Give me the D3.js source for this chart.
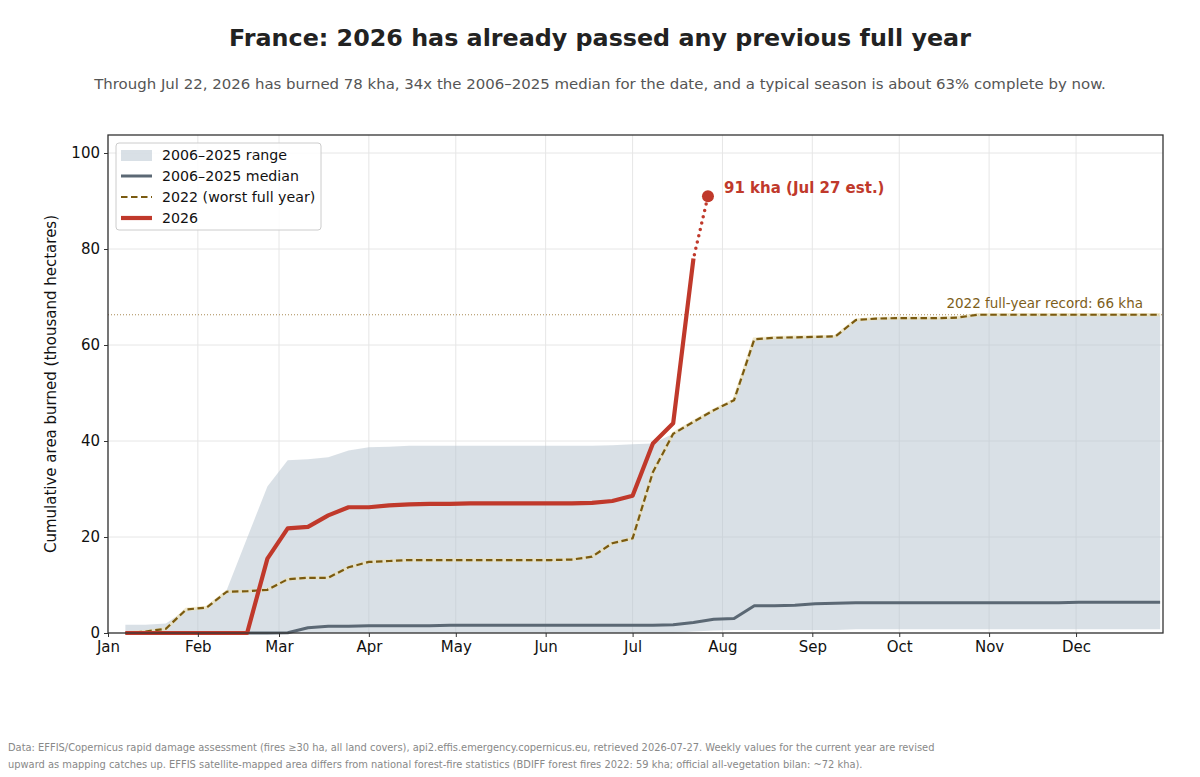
<!DOCTYPE html>
<html>
<head>
<meta charset="utf-8">
<script src="https://cdn.jsdelivr.net/npm/d3@7"></script>
<style>
  body { margin: 0; background: #fff; }
  svg { font-family: "DejaVu Sans", sans-serif; }
</style>
</head>
<body>
<svg id="chart" width="1200" height="777"></svg>
<script>
// weekly points, first one on Jan 7
var firstWeek = new Date(2026, 0, 7);
var weekCount = 52;

var rangeLow = [0, 0, 0, 0, 0, 0, 0, 0, 0, 0, 0, 0, 0, 0, 0, 0, 0, 0, 0, 0,
  0, 0, 0, 0, 0, 0, 0, 0, 0.3, 0.5, 0.6, 0.6, 0.6, 0.6, 0.6, 0.6, 0.8, 0.8, 0.8, 0.8,
  0.8, 0.8, 0.8, 0.8, 0.8, 0.8, 0.8, 0.8, 0.8, 0.8, 0.8, 0.8];
var rangeHigh = [1.7, 1.7, 2.0, 4.9, 5.3, 9.0, 19.8, 30.5, 36.0, 36.2, 36.6, 38.0, 38.7, 38.8, 39.0, 39.0, 39.0, 39.0, 39.0, 39.0,
  39.0, 39.0, 39.0, 39.0, 39.1, 39.3, 39.5, 41.5, 44.0, 46.4, 48.5, 61.2, 61.5, 61.6, 61.7, 61.8, 65.2, 65.5, 65.6, 65.6,
  65.6, 65.7, 66.3, 66.3, 66.3, 66.3, 66.3, 66.3, 66.3, 66.3, 66.3, 66.3];
var median = [0, 0, 0, 0, 0, 0, 0, 0, 0.05, 1.1, 1.4, 1.4, 1.5, 1.5, 1.5, 1.5, 1.6, 1.6, 1.6, 1.6,
  1.6, 1.6, 1.6, 1.6, 1.6, 1.6, 1.6, 1.7, 2.2, 2.85, 3.0, 5.7, 5.7, 5.8, 6.1, 6.2, 6.3, 6.3, 6.3, 6.3,
  6.3, 6.3, 6.3, 6.3, 6.3, 6.3, 6.3, 6.4, 6.4, 6.4, 6.4, 6.4];
var year2022 = [0, 0.3, 0.9, 4.9, 5.3, 8.6, 8.7, 9.0, 11.2, 11.5, 11.5, 13.7, 14.8, 15.0, 15.2, 15.2, 15.2, 15.2, 15.2, 15.2,
  15.2, 15.2, 15.3, 15.9, 18.7, 19.7, 33.5, 41.5, 44.0, 46.4, 48.5, 61.2, 61.5, 61.6, 61.7, 61.8, 65.2, 65.5, 65.6, 65.6,
  65.6, 65.7, 66.3, 66.3, 66.3, 66.3, 66.3, 66.3, 66.3, 66.3, 66.3, 66.3];
var year2026 = [0, 0, 0, 0, 0, 0, 0, 15.5, 21.8, 22.1, 24.5, 26.2, 26.2, 26.6, 26.8, 26.9, 26.9, 27.0, 27.0, 27.0,
  27.0, 27.0, 27.0, 27.1, 27.5, 28.6, 39.5, 43.7, 78.0];

var estDate = new Date(2026, 6, 27);
var estValue = 91;
var record2022 = 66.3;

var monthLabels = ["Jan", "Feb", "Mar", "Apr", "May", "Jun", "Jul", "Aug", "Sep", "Oct", "Nov", "Dec"];
var yTicks = [0, 20, 40, 60, 80, 100];

var titleText = "France: 2026 has already passed any previous full year";
var subtitleText = "Through Jul 22, 2026 has burned 78 kha, 34x the 2006\u20132025 median for the date, and a typical season is about 63% complete by now.";
var footLines = [
  "Data: EFFIS/Copernicus rapid damage assessment (fires \u226530 ha, all land covers), api2.effis.emergency.copernicus.eu, retrieved 2026-07-27. Weekly values for the current year are revised",
  "upward as mapping catches up. EFFIS satellite-mapped area differs from national forest-fire statistics (BDIFF forest fires 2022: 59 kha; official all-vegetation bilan: ~72 kha)."
];

var colRed = "#c0392b";
var colMedian = "#5b6874";
var col2022 = "#7a5a10";
var colBand = "#b3c1cd";
var dash2022 = "6.5,3.5";

var svg = d3.select("#chart");
var plotLeft = 108, plotRight = 1163, plotTop = 135, plotBottom = 633;

var weeks = d3.range(weekCount).map(function (i) {
  return d3.timeDay.offset(firstWeek, 7 * i);
});

var x = d3.scaleTime()
  .domain([new Date(2026, 0, 1), new Date(2026, 11, 31)])
  .range([plotLeft, plotRight]);
var y = d3.scaleLinear().domain([0, 103.75]).range([plotBottom, plotTop]);

var months = monthLabels.map(function (m, i) {
  return new Date(2026, i, 1);
});

// grid
svg.append("g")
  .selectAll("line")
  .data(months)
  .enter()
  .append("line")
  .attr("x1", function (d) { return x(d); })
  .attr("x2", function (d) { return x(d); })
  .attr("y1", plotTop)
  .attr("y2", plotBottom)
  .attr("stroke", "#e6e6e6")
  .attr("stroke-width", 1);
svg.append("g")
  .selectAll("line")
  .data(yTicks)
  .enter()
  .append("line")
  .attr("x1", plotLeft)
  .attr("x2", plotRight)
  .attr("y1", function (d) { return y(d); })
  .attr("y2", function (d) { return y(d); })
  .attr("stroke", "#e6e6e6")
  .attr("stroke-width", 1);

// range band
var area = d3.area()
  .x(function (d, i) { return x(weeks[i]); })
  .y0(function (d, i) { return y(rangeLow[i]); })
  .y1(function (d, i) { return y(rangeHigh[i]); });
svg.append("path")
  .datum(rangeHigh)
  .attr("d", area)
  .attr("fill", colBand)
  .attr("fill-opacity", 0.5);

// record line
svg.append("line")
  .attr("x1", plotLeft)
  .attr("x2", plotRight)
  .attr("y1", y(record2022))
  .attr("y2", y(record2022))
  .attr("stroke", "#a88a55")
  .attr("stroke-width", 1)
  .attr("stroke-dasharray", "1,2");
svg.append("text")
  .attr("x", 1143)
  .attr("y", y(record2022) - 7)
  .attr("text-anchor", "end")
  .attr("font-size", "13.5px")
  .attr("fill", "#7d5e1a")
  .text("2022 full-year record: 66 kha");

var line = d3.line()
  .x(function (d, i) { return x(weeks[i]); })
  .y(function (d) { return y(d); });

svg.append("path")
  .datum(median)
  .attr("d", line)
  .attr("fill", "none")
  .attr("stroke", colMedian)
  .attr("stroke-width", 3)
  .attr("stroke-linejoin", "round");

// pale halo under the 2022 dashes
svg.append("path")
  .datum(year2022)
  .attr("d", line)
  .attr("fill", "none")
  .attr("stroke", "#eadfb8")
  .attr("stroke-opacity", 0.7)
  .attr("stroke-width", 3.4);
svg.append("path")
  .datum(year2022)
  .attr("d", line)
  .attr("fill", "none")
  .attr("stroke", col2022)
  .attr("stroke-width", 2.2)
  .attr("stroke-dasharray", dash2022);

svg.append("path")
  .datum(year2026)
  .attr("d", line)
  .attr("fill", "none")
  .attr("stroke", colRed)
  .attr("stroke-width", 4.2)
  .attr("stroke-linejoin", "round");

// estimate to Jul 27
var lastIdx = year2026.length - 1;
svg.append("line")
  .attr("x1", x(weeks[lastIdx]))
  .attr("y1", y(year2026[lastIdx]))
  .attr("x2", x(estDate))
  .attr("y2", y(estValue))
  .attr("stroke", colRed)
  .attr("stroke-width", 3.5)
  .attr("stroke-dasharray", "0,6.5")
  .attr("stroke-dashoffset", -4)
  .attr("stroke-linecap", "round");
svg.append("circle")
  .attr("cx", x(estDate))
  .attr("cy", y(estValue))
  .attr("r", 6)
  .attr("fill", colRed);
svg.append("text")
  .attr("x", x(estDate) + 16)
  .attr("y", y(estValue) - 3)
  .attr("font-size", "15px")
  .attr("font-weight", "bold")
  .attr("fill", colRed)
  .text("91 kha (Jul 27 est.)");

// frame
svg.append("rect")
  .attr("x", plotLeft)
  .attr("y", plotTop)
  .attr("width", plotRight - plotLeft)
  .attr("height", plotBottom - plotTop)
  .attr("fill", "none")
  .attr("stroke", "#333")
  .attr("stroke-width", 1.3);

// axes
var xAxis = svg.append("g")
  .attr("transform", "translate(0," + plotBottom + ")")
  .call(d3.axisBottom(x).tickValues(months).tickFormat(function (d, i) {
    return monthLabels[i];
  }).tickSize(4).tickPadding(4));
var yAxis = svg.append("g")
  .attr("transform", "translate(" + plotLeft + ",0)")
  .call(d3.axisLeft(y).tickValues(yTicks).tickSize(4).tickPadding(4));
[xAxis, yAxis].forEach(function (g) {
  g.select(".domain").remove();
  g.selectAll("text")
    .attr("font-family", "DejaVu Sans, sans-serif")
    .attr("font-size", "15px")
    .attr("fill", "#111");
  g.selectAll("line").attr("stroke", "#333");
});

svg.append("text")
  .attr("transform", "translate(56," + (plotTop + plotBottom) / 2 + ") rotate(-90)")
  .attr("text-anchor", "middle")
  .attr("font-size", "15px")
  .attr("fill", "#111")
  .text("Cumulative area burned (thousand hectares)");

// legend
var legend = svg.append("g").attr("transform", "translate(116,143)");
legend.append("rect")
  .attr("width", 205)
  .attr("height", 87)
  .attr("rx", 3)
  .attr("fill", "#fff")
  .attr("fill-opacity", 0.85)
  .attr("stroke", "#ccc");
var legendItems = [
  { label: "2006\u20132025 range", kind: "band" },
  { label: "2006\u20132025 median", kind: "median" },
  { label: "2022 (worst full year)", kind: "2022" },
  { label: "2026", kind: "2026" }
];
var li = legend.selectAll("g.item")
  .data(legendItems)
  .enter()
  .append("g")
  .attr("transform", function (d, i) {
    return "translate(0," + (12 + i * 21) + ")";
  });
li.each(function (d) {
  var g = d3.select(this);
  if (d.kind === "band") {
    g.append("rect").attr("x", 5).attr("y", -5).attr("width", 31).attr("height", 11)
      .attr("fill", colBand).attr("fill-opacity", 0.5);
  } else {
    g.append("line").attr("x1", 5).attr("x2", 36).attr("y1", 0).attr("y2", 0)
      .attr("stroke", d.kind === "median" ? colMedian : d.kind === "2022" ? col2022 : colRed)
      .attr("stroke-width", d.kind === "2026" ? 4.2 : d.kind === "median" ? 3 : 2.2)
      .attr("stroke-dasharray", d.kind === "2022" ? dash2022 : null);
  }
  g.append("text")
    .attr("x", 46)
    .attr("y", 5)
    .attr("font-size", "14.2px")
    .attr("fill", "#111")
    .text(d.label);
});

// titles
svg.append("text")
  .attr("x", 600)
  .attr("y", 46)
  .attr("text-anchor", "middle")
  .attr("font-size", "23.8px")
  .attr("font-weight", "bold")
  .attr("fill", "#222")
  .text(titleText);
svg.append("text")
  .attr("x", 600)
  .attr("y", 89)
  .attr("text-anchor", "middle")
  .attr("font-size", "14.95px")
  .attr("fill", "#555")
  .text(subtitleText);

svg.append("g")
  .selectAll("text")
  .data(footLines)
  .enter()
  .append("text")
  .attr("x", 8)
  .attr("y", function (d, i) { return 751 + i * 17; })
  .attr("font-size", "9.9px")
  .attr("fill", "#888")
  .text(function (d) { return d; });
</script>
</body>
</html>
